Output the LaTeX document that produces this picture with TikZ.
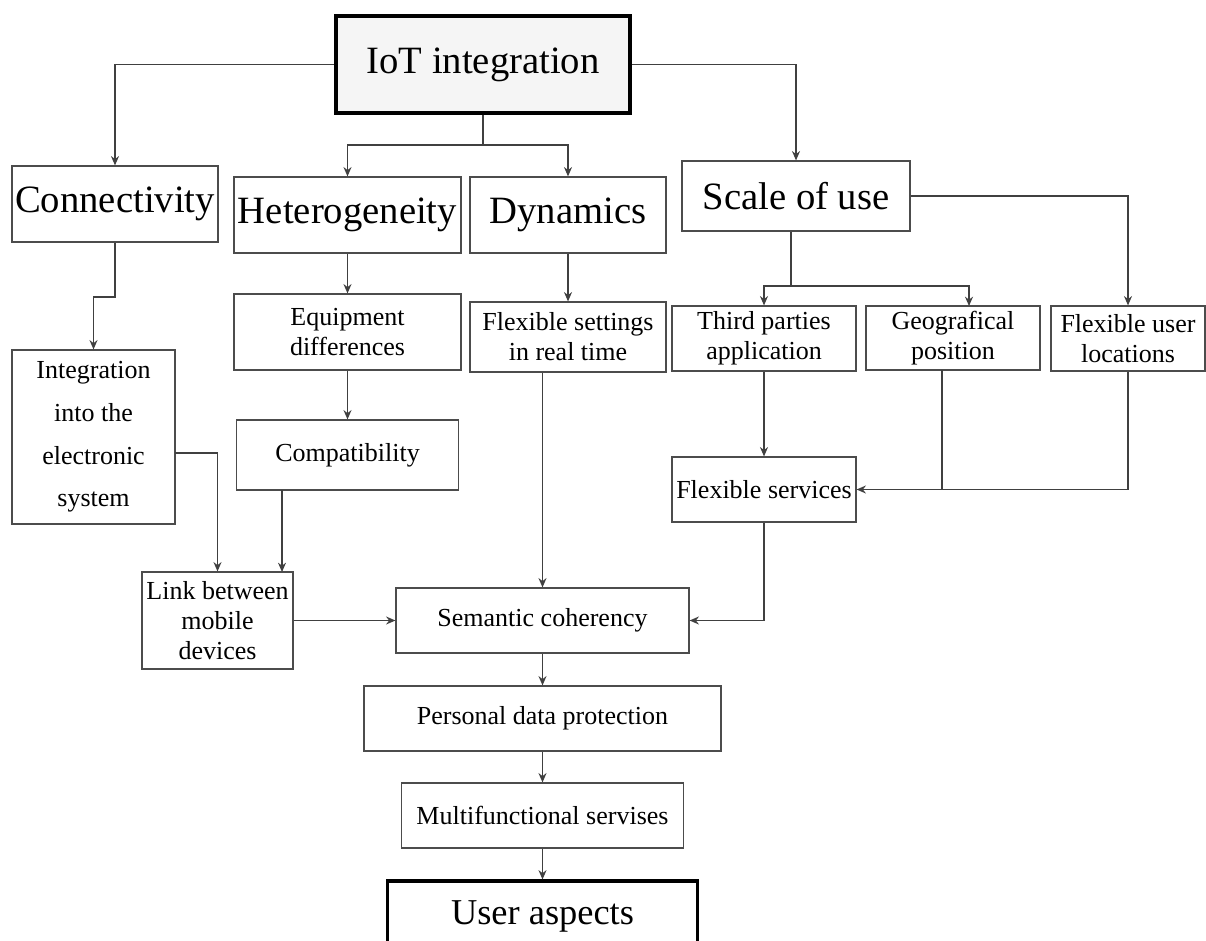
\documentclass[tikz,border=0pt]{standalone}
\usepackage{fontspec}
\setmainfont{Liberation Serif}
\usetikzlibrary{arrows.meta,calc}
\begin{document}
\begin{tikzpicture}[x=0.75pt,y=-0.75pt,
  box/.style={draw=black!70, line width=0.9pt, inner sep=0pt, align=center, fill=white,
              font=\fontsize{19.5}{22.5}\selectfont},
  big/.style={font=\fontsize{29}{34}\selectfont},
  heavy/.style={draw=black, line width=2.3pt},
  sz/.style 2 args={minimum width=#1*0.75pt, minimum height=#2*0.75pt},
  arr/.style={draw=black!75, line width=0.9pt, -{Stealth[length=7pt,width=6pt]}},
  ln/.style={draw=black!75, line width=0.9pt}]
\clip (0,0) rectangle (1206,941);
\fill[white] (0,0) rectangle (1206,941);

% nodes
\node[box,big,heavy,fill=gray!8,sz={294}{97}] (iot) at (483,64.5) {IoT integration};
\node[box,big,sz={206}{76}] (conn) at (115,204) {Connectivity};
\node[box,big,sz={227}{76}] (het) at (347.5,215) {Heterogeneity};
\node[box,big,sz={196}{76}] (dyn) at (568,215) {Dynamics};
\node[box,big,sz={228}{70}] (scale) at (796,196) {Scale of use};
\node[box,sz={163}{174},font=\fontsize{19.5}{32}\selectfont] (integ) at (93.5,437) {Integration\\into the\\electronic\\system};
\node[box,sz={227}{76}] (equip) at (347.5,332) {Equipment\\differences};
\node[box,sz={222}{70}] (compat) at (347.5,455) {Compatibility};
\node[box,sz={151}{97}] (link) at (217.5,620.5) {Link between\\mobile\\devices};
\node[box,sz={196}{70}] (flexset) at (568,337) {Flexible settings\\in real time};
\node[box,sz={184}{65}] (third) at (764,338.5) {Third parties\\application};
\node[box,sz={174}{64}] (geo) at (953,338) {Geografical\\position};
\node[box,sz={154}{65}] (flexuser) at (1128,338.5) {Flexible user\\locations};
\node[box,sz={184}{65}] (flexserv) at (764,489.5) {Flexible services};
\node[box,sz={293}{65}] (sem) at (542.5,620.5) {Semantic coherency};
\node[box,sz={357}{65}] (pers) at (542.5,718.5) {Personal data protection};
\node[box,sz={282}{65}] (multi) at (542.5,815.5) {Multifunctional servises};
\node[box,heavy,sz={310}{70},font=\fontsize{27.3}{32}\selectfont] (user) at (542.5,916) {User aspects};

% junction coordinates
\coordinate (j1) at (483,145);
\coordinate (j2) at (791,286);
\coordinate (g2) at (969,306);
\coordinate (c1) at (115,297);
\coordinate (i1) at (175,453);
\coordinate (k1) at (282,490);
\coordinate (k2) at (282,572);
\coordinate (gs) at (942,370);
\coordinate (gj) at (942,489.5);

% connectors
\draw[arr] (iot.west) -| (conn.north);
\draw[arr] (iot.east) -| (scale.north);
\draw[ln] (iot.south) -- (j1);
\draw[arr] (j1) -| (het.north);
\draw[arr] (j1) -| (dyn.north);
\draw[arr] (het.south) -- (equip.north);
\draw[arr] (equip.south) -- (compat.north);
\draw[arr] (dyn.south) -- (flexset.north);
\draw[arr] (conn.south) -- (c1) -| (integ.north);
\draw[arr] (i1) -| (link.north);
\draw[arr] (k1) -- (k2);
\draw[arr] (link.east) -- (sem.west);
\draw[arr] (flexset.south -| sem.north) -- (sem.north);
\draw[arr] (scale.east) -| (flexuser.north);
\draw[ln] (scale.south -| j2) -- (j2);
\draw[arr] (j2) -| (third.north);
\draw[arr] (j2) -| (g2);
\draw[arr] (third.south) -- (flexserv.north);
\draw[ln] (gs) -- (gj);
\draw[arr] (flexuser.south) |- (flexserv.east);
\draw[arr] (flexserv.south) |- (sem.east);
\draw[arr] (sem.south) -- (pers.north);
\draw[arr] (pers.south) -- (multi.north);
\draw[arr] (multi.south) -- (user.north);
\end{tikzpicture}
\end{document}
